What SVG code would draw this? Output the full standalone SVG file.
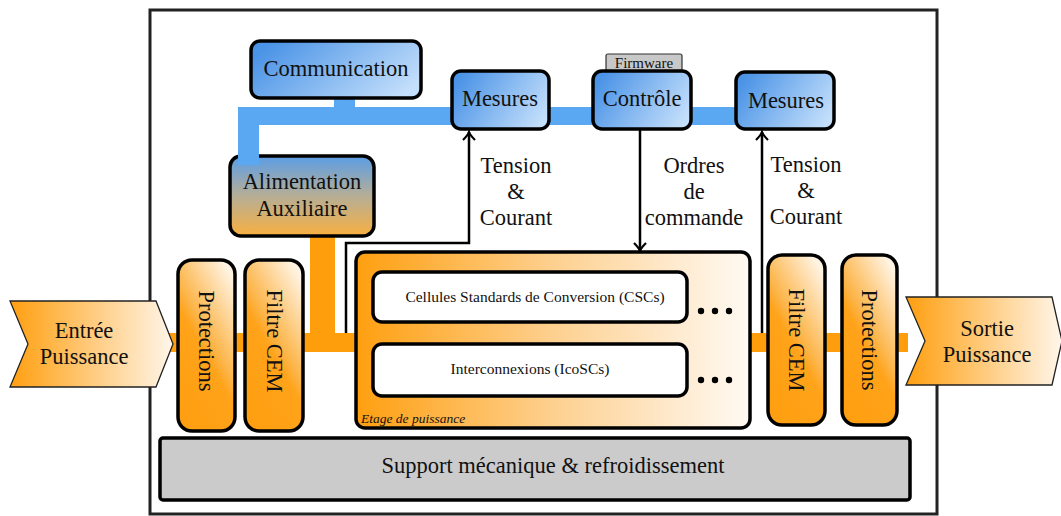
<svg xmlns="http://www.w3.org/2000/svg" width="1061" height="516" viewBox="0 0 1061 516">
<defs>
<linearGradient id="gBlue" x1="0" y1="0.3" x2="1" y2="0.7"><stop offset="0" stop-color="#4a93e6"/><stop offset="1" stop-color="#c4dffb"/></linearGradient>
<linearGradient id="gAux" x1="0" y1="0" x2="0" y2="1"><stop offset="0" stop-color="#5b9de6"/><stop offset="0.5" stop-color="#b6ae96"/><stop offset="1" stop-color="#f8b040"/></linearGradient>
<linearGradient id="gVert" x1="0.8" y1="0" x2="0.2" y2="1"><stop offset="0" stop-color="#fff4e4"/><stop offset="0.45" stop-color="#fcb447"/><stop offset="0.55" stop-color="#ffa31a"/><stop offset="1" stop-color="#ff9f10"/></linearGradient>
<linearGradient id="gEtage" x1="0" y1="0" x2="1" y2="0"><stop offset="0" stop-color="#ff9f10"/><stop offset="0.5" stop-color="#fdd08f"/><stop offset="1" stop-color="#fffaf4"/></linearGradient>
<linearGradient id="gIO" x1="0" y1="0" x2="1" y2="0"><stop offset="0" stop-color="#ff9f10"/><stop offset="1" stop-color="#fff6ea"/></linearGradient>
<marker id="arr" viewBox="-10 -8 12 16" markerWidth="12" markerHeight="16" refX="0" refY="0" orient="auto" markerUnits="userSpaceOnUse">
<path d="M-8,-6 Q-3,-1 0,0 Q-3,1 -8,6" fill="none" stroke="#000" stroke-width="2.2"/>
</marker>
<style>
.t{font-family:"Liberation Serif","Times New Roman",serif;font-size:22.5px;fill:#111;text-anchor:middle}
.s{font-family:"Liberation Serif","Times New Roman",serif;font-size:15.5px;fill:#111;text-anchor:middle}
.box{stroke:#000;stroke-width:3.5}
.blue{fill:#5ba8f2}
.orange{fill:#ff9e0d}
.halo{fill:none;stroke:#fff;stroke-width:7}
.conn{fill:none;stroke:#000;stroke-width:2.5}
</style>
</defs>
<rect id="frame" x="150" y="10" width="787" height="504" fill="#fff" stroke="#222" stroke-width="3"/>
<g id="buses">
<rect class="blue" x="238" y="107" width="505" height="18"/>
<rect class="blue" x="334" y="97" width="21" height="12"/>
<rect class="orange" x="310" y="234" width="25" height="110"/>
<rect class="orange" x="165" y="333" width="192" height="19"/>
<rect class="orange" x="748" y="333" width="160" height="19"/>
</g>
<g id="connectors">
<path class="halo" d="M346,333 V243 H469 V134"/>
<path class="conn" d="M346,333 V243 H469 V132" marker-end="url(#arr)"/>
<path class="halo" d="M762,333 V134"/>
<path class="conn" d="M762,333 V132" marker-end="url(#arr)"/>
<path class="conn" d="M640,130 V251" marker-end="url(#arr)"/>
</g>
<g id="communication"><rect class="box" x="251" y="41" width="170" height="57" rx="9" fill="url(#gBlue)"/><text class="t" x="336" y="76">Communication</text></g>
<g id="alimentation"><rect class="box" x="230" y="156" width="144" height="80" rx="11" fill="url(#gAux)"/><rect class="blue" x="238" y="120" width="21" height="45"/><text class="t" x="302" y="189">Alimentation</text><text class="t" x="302" y="216">Auxiliaire</text></g>
<g id="mesures1"><rect class="box" x="452" y="71" width="97" height="58" rx="9" fill="url(#gBlue)"/><text class="t" x="500" y="106">Mesures</text></g>
<g id="controle"><rect x="606" y="54" width="76" height="18" rx="2" fill="#c8c8c8" stroke="#333" stroke-width="1.2"/><text x="644" y="68" font-family="Liberation Serif, serif" font-size="15" text-anchor="middle" fill="#111">Firmware</text><rect class="box" x="593" y="71" width="98" height="58" rx="9" fill="url(#gBlue)"/><text class="t" x="642" y="106">Contrôle</text></g>
<g id="mesures2"><rect class="box" x="736" y="72" width="98" height="57" rx="9" fill="url(#gBlue)"/><text class="t" x="786" y="108">Mesures</text></g>
<g id="labels">
<text class="t" x="516" y="173">Tension</text><text class="t" x="516" y="199">&amp;</text><text class="t" x="516" y="225">Courant</text>
<text class="t" x="694" y="173">Ordres</text><text class="t" x="694" y="199">de</text><text class="t" x="694" y="225">commande</text>
<text class="t" x="806" y="172">Tension</text><text class="t" x="806" y="198">&amp;</text><text class="t" x="806" y="224">Courant</text>
</g>
<g id="entree"><polygon points="10,301 156,301 173,344 156,387 10,387 28,344" fill="url(#gIO)" stroke="#222" stroke-width="1.3"/><text class="t" x="84" y="338">Entrée</text><text class="t" x="84" y="364">Puissance</text></g>
<g id="protections1"><rect class="box" x="178" y="260" width="57" height="171" rx="14" fill="url(#gVert)"/><text class="t" transform="translate(206,341) rotate(90)" dy="0.33em">Protections</text></g>
<g id="filtre1"><rect class="box" x="245" y="260" width="58" height="171" rx="14" fill="url(#gVert)"/><text class="t" transform="translate(274,341) rotate(90)" dy="0.33em">Filtre CEM</text></g>
<g id="etage"><rect class="box" x="356" y="252" width="394" height="176" rx="9" fill="url(#gEtage)"/>
<text x="361" y="423" font-family="Liberation Serif, serif" font-style="italic" font-size="13.5" fill="#111">Etage de puissance</text></g>
<g id="cscs"><rect class="box" x="373" y="272" width="314" height="50" rx="9" fill="#fff"/><text class="s" x="535" y="302">Cellules Standards de Conversion (CSCs)</text>
<circle cx="701" cy="311" r="3.2"/><circle cx="715" cy="311" r="3.2"/><circle cx="729" cy="311" r="3.2"/></g>
<g id="icoscs"><rect class="box" x="373" y="344" width="314" height="52" rx="9" fill="#fff"/><text class="s" x="530" y="374">Interconnexions (IcoSCs)</text>
<circle cx="701" cy="380" r="3.2"/><circle cx="715" cy="380" r="3.2"/><circle cx="729" cy="380" r="3.2"/></g>
<g id="filtre2"><rect class="box" x="768" y="255" width="57" height="170" rx="14" fill="url(#gVert)"/><text class="t" transform="translate(796,340) rotate(90)" dy="0.33em">Filtre CEM</text></g>
<g id="protections2"><rect class="box" x="842" y="255" width="55" height="170" rx="14" fill="url(#gVert)"/><text class="t" transform="translate(869,340) rotate(90)" dy="0.33em">Protections</text></g>
<g id="sortie"><polygon points="906,297 1052,297 1062,341 1052,385 906,385 925,341" fill="url(#gIO)" stroke="#222" stroke-width="1.3"/><text class="t" x="987" y="336">Sortie</text><text class="t" x="987" y="362">Puissance</text></g>
<g id="support"><rect class="box" x="160" y="438" width="750" height="62" rx="3" fill="#cbcbcb"/><text class="t" x="553" y="473">Support mécanique &amp; refroidissement</text></g>
</svg>
